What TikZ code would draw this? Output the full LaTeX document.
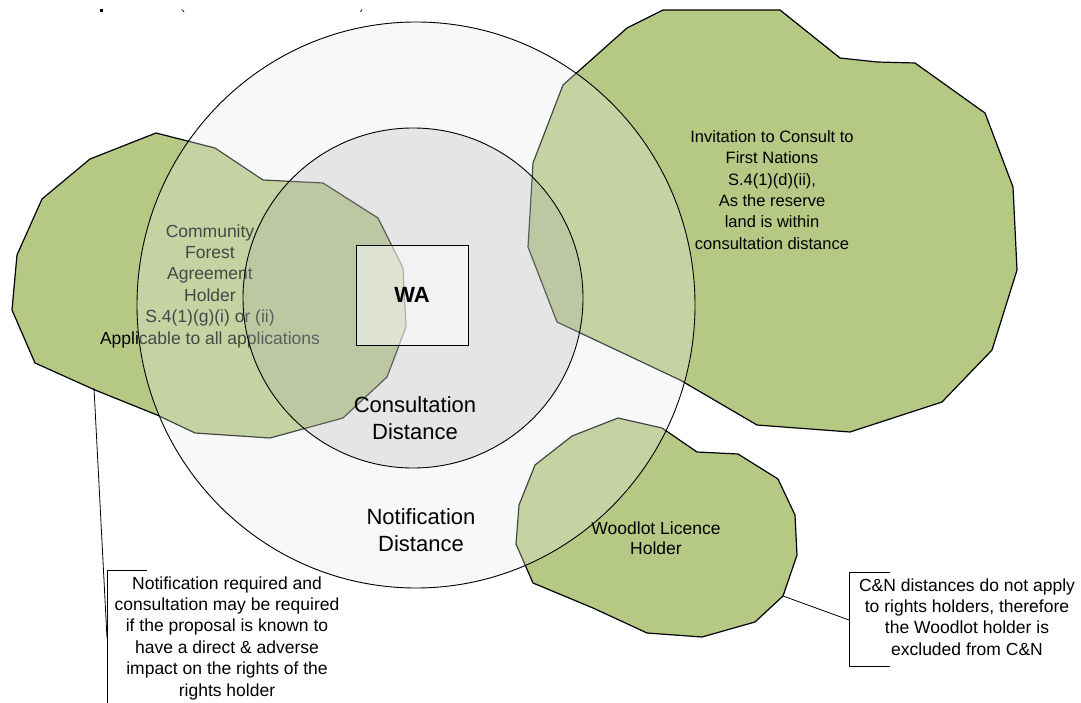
\documentclass[tikz,border=0pt]{standalone}
\usepackage{fontspec}
\setmainfont{Liberation Sans}
\definecolor{zgreen}{RGB}{181,201,133}
\definecolor{ringfill}{RGB}{235,235,235}
\definecolor{corefill}{RGB}{166,166,166}
\begin{document}
\begin{tikzpicture}[x=1pt,y=-1pt,
  zone/.style={draw=black,line width=1.2pt,fill=zgreen,line join=round},
  ring/.style={draw=black,line width=0.9pt},
  lbl/.style={align=center,inner sep=0pt,text=black},
  midtext/.style={lbl,font=\fontsize{17.5}{21.4}\selectfont},
  bigtext/.style={lbl,font=\fontsize{22}{27}\selectfont},
  callout/.style={draw=black,line width=0.8pt}]
\fill[white] (0,0) rectangle (1081,703);
\path[use as bounding box] (0,0) rectangle (1081,703);

% fragments of cut-off text at the top
\fill (100,9.5) rectangle (102.5,12.5);
\draw[line width=0.7pt] (182,9.5) -- (184,12);
\draw[line width=0.7pt] (362,9.5) -- (360.5,12);

% Community forest zone
\draw[zone] (156,133) -- (215,148) -- (263,180) -- (323,183) -- (378,218)
  -- (403,268) -- (406,327) -- (387,377) -- (343,418) -- (270,438)
  -- (195,433) -- (157,415) -- (95,390) -- (35,363) -- (12,310)
  -- (17,255) -- (42,199) -- (90,159) -- cycle;
\node[midtext] (cfa) at (210,286) {Community\\Forest\\Agreement\\Holder\\S.4(1)(g)(i) or (ii)\\Applicable to all applications};

% First Nations reserve zone
\draw[zone] (663,10) -- (780,10) -- (840,58) -- (877,62) -- (915,63)
  -- (985,113) -- (1013,187) -- (1017,270) -- (992,350) -- (942,402)
  -- (850,432) -- (757,425) -- (680,380) -- (557,322) -- (528,247)
  -- (533,163) -- (563,85) -- (627,28) -- cycle;
\node[lbl,font=\fontsize{16.5}{21.4}\selectfont] (fn) at (772,190)
  {Invitation to Consult to\\First Nations\\S.4(1)(d)(ii),\\As the reserve\\land is within\\consultation distance};

% Woodlot zone
\draw[zone] (618,418) -- (662,428) -- (697,452) -- (738,454) -- (778,479)
  -- (795,515) -- (797,555) -- (783,596) -- (755,622) -- (702,637)
  -- (647,633) -- (593,608) -- (533,583) -- (516,544) -- (519,505)
  -- (535,465) -- (572,436) -- cycle;
\node[lbl,font=\fontsize{17.5}{20.5}\selectfont] (wl) at (656,538) {Woodlot Licence\\Holder};

% distance rings
\draw[ring,fill=ringfill,fill opacity=0.3] (416,305) ellipse[x radius=279,y radius=283];
\draw[ring,fill=corefill,fill opacity=0.23] (413,298) circle[radius=170];

% WA box
\node[draw=black,line width=0.9pt,fill=white,fill opacity=0.5,text opacity=1,
  minimum width=112pt,minimum height=100pt,inner sep=0pt,
  font=\fontsize{22}{26}\selectfont\bfseries] (wa) at (412,295) {WA};

\node[bigtext] (cd) at (415,418) {Consultation\\Distance};
\node[bigtext] (nd) at (421,530) {Notification\\Distance};

% left callout
\coordinate (cfaTip) at (94,388);
\coordinate (lbTop) at (107,570);
\coordinate (lbTick) at (147,570);
\coordinate (lbMid) at (107,638);
\coordinate (lbBot) at (107,707);
\coordinate (lbBotTick) at (147,707);
\draw[callout] (cfaTip) -- (lbMid);
\draw[callout] (lbTick) -- (lbTop) -- (lbBot) -- (lbBotTick);
\node[midtext] (ntxt) at (227,638) {Notification required and\\consultation may be required\\if the proposal is known to\\have a direct \& adverse\\impact on the rights of the\\rights holder};

% right callout
\coordinate (wlTip) at (783,596);
\coordinate (rbTop) at (849,572);
\coordinate (rbTick) at (890,572);
\coordinate (rbMid) at (849,620);
\coordinate (rbBot) at (849,666);
\coordinate (rbBotTick) at (890,666);
\draw[callout] (wlTip) -- (rbMid);
\draw[callout] (rbTick) -- (rbTop) -- (rbBot) -- (rbBotTick);
\node[midtext] (ctxt) at (967,617) {C\&N distances do not apply\\to rights holders, therefore\\the Woodlot holder is\\excluded from C\&N};
\end{tikzpicture}
\end{document}
